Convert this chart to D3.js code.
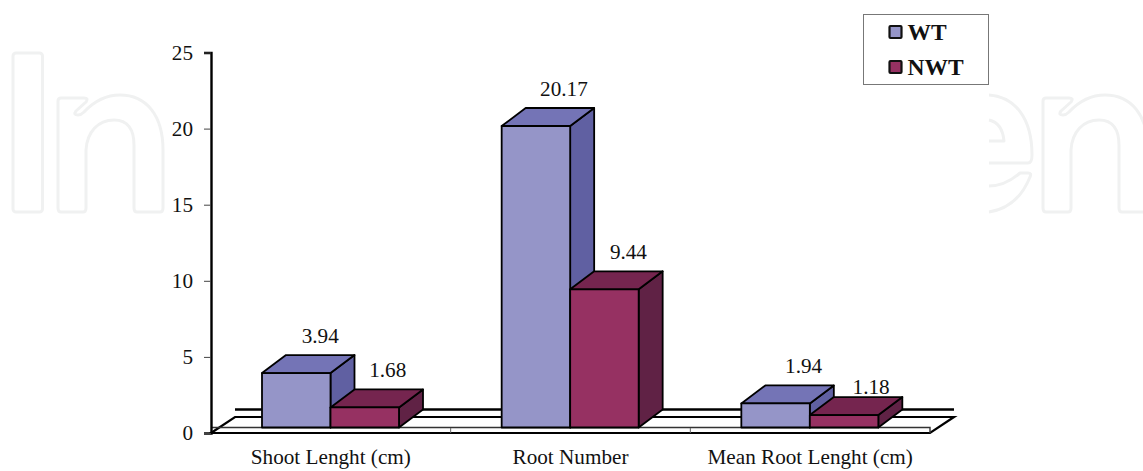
<!DOCTYPE html>
<html>
<head>
<meta charset="utf-8">
<script src="https://cdn.jsdelivr.net/npm/d3@7"></script>
<style>
html,body{margin:0;padding:0;background:#fff;}
svg{display:block;}
text{font-family:"Liberation Serif","Times New Roman",serif;fill:#111;}
</style>
</head>
<body>
<svg id="chart" width="1143" height="471"></svg>
<script>
const categories = ["Shoot Lenght (cm)", "Root Number", "Mean Root Lenght (cm)"];
const seriesNames = ["WT", "NWT"];
const wtValues = [3.94, 20.17, 1.94];
const nwtValues = [1.68, 9.44, 1.18];
const yTicks = [0, 5, 10, 15, 20, 25];
const seriesColors = {
  WT:  {front: "#9595c8", top: "#7474b6", side: "#6060a2"},
  NWT: {front: "#963162", top: "#75254f", side: "#602245"}
};
const valuesBySeries = {WT: wtValues, NWT: nwtValues};

const width = 1143, height = 471;
const depthX = 24, depthY = -18;       // oblique offset of the 3D projection
const floorThickness = 5;
const barInset = 51;                   // gap between category edge and first bar
const barPairWidth = 137;
const fontSize = "21.2px";
const labelNudgeX = [0, -1, 4, 0, 4, 3]; // hand placement of the value labels, bar by bar

const svg = d3.select("#chart");

// Outlined logo letterforms behind the plot
const logoN = "M61,98H84Q89,98 86,102L76,111Q73,115 78,115Q81,115 84,112Q100,95 120,95C146,95 163,115 163,150V208Q163,212 160,212H137Q134,212 134,208V145C134,130 128,120 114,120C98,120 87,132 86,150V208Q86,212 83,212H61Q58,212 58,208V101Q58,98 61,98Z";
const logoE = "M989,95C1015,97 1032,118 1032,155Q1032,163 1028,163H989M989,120C998,122 1003,130 1004,141H989M989,186C1002,186 1012,180 1020,173H1028Q1032,173 1030,177C1022,197 1008,209 989,212";
const logo = svg.append("g").attr("fill", "none").attr("stroke", "#f0f1f1")
  .attr("stroke-width", 3).attr("stroke-linejoin", "round");
logo.append("rect").attr("x", 13).attr("y", 53).attr("width", 29.5).attr("height", 159).attr("rx", 3);
logo.append("path").attr("d", logoN);
logo.append("path").attr("d", logoE);
logo.append("path").attr("d", logoN).attr("transform", "translate(985,0)");

const x = d3.scaleBand().domain(categories).range([211, 930]);
const xSeries = d3.scaleBand().domain(seriesNames).range([barInset, barInset + barPairWidth]);
const y = d3.scaleLinear().domain([0, 25]).range([433, 52.5]);

const y0 = y(0);
const xL = x.range()[0], xR = x.range()[1];

// Floor slab with its raised back edge
const floor = svg.append("g").attr("fill", "none").attr("stroke", "#000");
floor.append("path").attr("stroke-width", 2.4)
  .attr("d", `M${xL + depthX},${y0 - 23.5}H${xR + depthX}`);
floor.append("path").attr("stroke-width", 2.2)
  .attr("fill", "#fff")
  .attr("d", `M${xL},${y0}L${xL + depthX},${y0 + depthY + 2}H${xR + depthX}L${xR},${y0}Z`);
floor.append("path").attr("stroke-width", 1.4).attr("stroke", "#333")
  .attr("d", `M${xL},${y0 - floorThickness - 0.5}H${xR}V${y0}`);

// Separators between categories
floor.selectAll("line.sep").data(categories.slice(1)).join("line")
  .attr("class", "sep")
  .attr("x1", d => x(d)).attr("x2", d => x(d))
  .attr("y1", y0 - floorThickness).attr("y2", y0)
  .attr("stroke", "#666").attr("stroke-width", 1);

// Value axis
const yAxis = d3.axisLeft(y).tickValues(yTicks).tickSize(7).tickPadding(11);
const yG = svg.append("g").attr("transform", `translate(${xL},0)`).call(yAxis);
yG.select(".domain").attr("stroke", "#000").attr("stroke-width", 2.4);
yG.selectAll(".tick line").attr("stroke", "#444").attr("stroke-width", 1);
yG.selectAll("text").style("font-size", fontSize)
  .style("font-family", "'Liberation Serif'").attr("fill", "#111");

// Category axis, labels only
const xAxis = d3.axisBottom(x).tickSize(0).tickPadding(16);
const xG = svg.append("g").attr("transform", `translate(0,${y0})`).call(xAxis);
xG.select(".domain").attr("stroke", "none");
xG.selectAll("text").style("font-size", fontSize)
  .style("font-family", "'Liberation Serif'").attr("fill", "#111");

// 3D bars
const barW = xSeries.bandwidth();
const bars = [];
categories.forEach((c, i) => seriesNames.forEach(s =>
  bars.push({category: c, series: s, value: valuesBySeries[s][i]})));

const barG = svg.append("g").selectAll("g").data(bars).join("g")
  .attr("stroke", "#000").attr("stroke-width", 1.8).attr("stroke-linejoin", "round");

barG.append("path")
  .attr("fill", d => seriesColors[d.series].side)
  .attr("d", d => {
    const r = x(d.category) + xSeries(d.series) + barW, t = y(d.value), b = y0 - floorThickness - 0.5;
    return `M${r},${t}l${depthX},${depthY}V${b + depthY}L${r},${b}Z`;
  });
barG.append("path")
  .attr("fill", d => seriesColors[d.series].top)
  .attr("d", d => {
    const l = x(d.category) + xSeries(d.series), t = y(d.value);
    return `M${l},${t}l${depthX},${depthY}h${barW}l${-depthX},${-depthY}Z`;
  });
barG.append("rect")
  .attr("fill", d => seriesColors[d.series].front)
  .attr("x", d => x(d.category) + xSeries(d.series))
  .attr("y", d => y(d.value))
  .attr("width", barW)
  .attr("height", d => y0 - floorThickness - 0.5 - y(d.value));

// Value labels sit above the top face
svg.append("g").selectAll("text").data(bars).join("text")
  .attr("x", (d, i) => x(d.category) + xSeries(d.series) + barW / 2 + depthX + labelNudgeX[i])
  .attr("y", d => y(d.value) - (d.value < 1.5 ? 21 : 30))
  .attr("text-anchor", "middle")
  .style("font-size", fontSize)
  .text(d => d.value.toFixed(2));

// Legend
const legend = svg.append("g");
legend.append("rect").attr("x", 863.5).attr("y", 14.5).attr("width", 125).attr("height", 70)
  .attr("fill", "#fff").attr("stroke", "#777").attr("stroke-width", 1);
const legendRow = d3.scalePoint().domain(seriesNames).range([32, 67]);
const item = legend.selectAll("g").data(seriesNames).join("g")
  .attr("transform", d => `translate(0,${legendRow(d)})`);
item.append("rect").attr("x", 889.5).attr("y", -6).attr("width", 12).attr("height", 12)
  .attr("rx", 1)
  .attr("fill", d => seriesColors[d].front).attr("stroke", "#111").attr("stroke-width", 2.2);
item.append("text").attr("x", 907.5).attr("y", 8)
  .style("font-size", "23.5px").style("font-weight", 700)
  .text(d => d);
</script>
</body>
</html>
